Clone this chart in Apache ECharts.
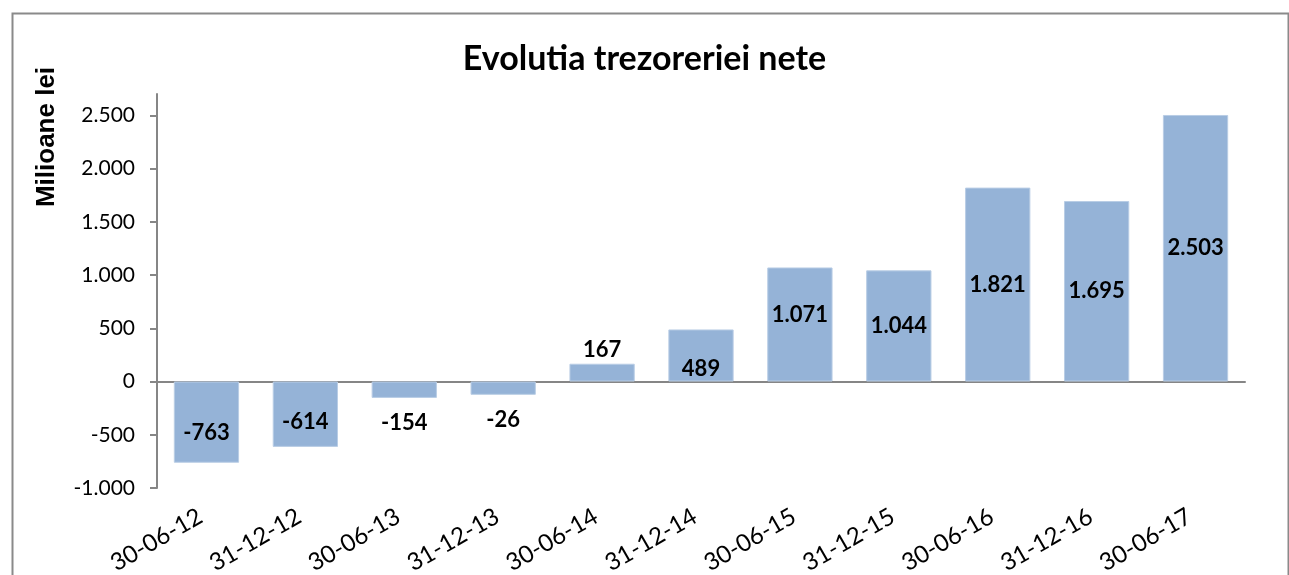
<!DOCTYPE html>
<html>
<head>
<meta charset="utf-8">
<script src="https://cdn.jsdelivr.net/npm/echarts@6/dist/echarts.min.js"></script>
<style>
html,body{margin:0;padding:0;background:#fff;}
#chart{width:1289px;height:575px;}
</style>
</head>
<body>
<div id="chart"></div>
<script>
// ---- data ----
const categories = ['30-06-12','31-12-12','30-06-13','31-12-13','30-06-14','31-12-14','30-06-15','31-12-15','30-06-16','31-12-16','30-06-17'];
// bar heights as drawn in the picture
const barValues = [-763, -614, -154, -125, 167, 489, 1071, 1044, 1821, 1695, 2503];
// data labels as printed in the picture
const labelTexts = ['-763','-614','-154','-26','167','489','1.071','1.044','1.821','1.695','2.503'];
const yTickValues = [-1000, -500, 0, 500, 1000, 1500, 2000, 2500];
const titleText = 'Evolutia trezoreriei nete';
const yAxisTitle = 'Milioane lei';

// ---- styling (label placement per bar) ----
const labelStyle = [
  {position:'inside', offset:[0,11]},
  {position:'inside', offset:[0,8]},
  {position:'bottom', distance:14},
  {position:'bottom', distance:14},
  {position:'top', distance:3},
  {position:'inside', offset:[0,13]},
  {position:'inside', offset:[0,-10]},
  {position:'inside', offset:[0,0]},
  {position:'inside', offset:[0,0]},
  {position:'inside', offset:[0,0]},
  {position:'inside', offset:[0,0]}
];

function fmt(v){
  const s = Math.abs(v).toString().replace(/\B(?=(\d{3})+(?!\d))/g, '.');
  return (v < 0 ? '-' : '') + s;
}

const FONT = 'Lato';
const chart = echarts.init(document.getElementById('chart'), null, {renderer:'canvas'});
chart.setOption({
  animation:false,
  backgroundColor:'#ffffff',
  title:{
    text:titleText, left:'center', top:37,
    textStyle:{fontFamily:FONT, fontSize:34, fontWeight:'bold', color:'#000'}
  },
  graphic:[{
    type:'rect', left:10, top:11, silent:true,
    shape:{width:1276, height:600},
    style:{fill:'none', stroke:'#8a8a8a', lineWidth:2}
  },{
    type:'text', x:47, y:137, rotation:Math.PI/2, silent:true,
    style:{text:yAxisTitle, fontFamily:'Liberation Sans', fontSize:26, fontWeight:'bold', fill:'#000',
      align:'center', verticalAlign:'middle'}
  }],
  grid:{left:157, right:44, top:94, bottom:87, containLabel:false, outerBoundsMode:'none'},
  xAxis:[{
    type:'category', data:categories, position:'bottom',
    axisLine:{show:false, onZero:false},
    axisTick:{show:false},
    axisLabel:{rotate:30, margin:23, padding:[0,7,0,0], fontFamily:FONT, fontSize:24, color:'#000', interval:0}
  },{
    type:'category', data:categories, position:'bottom',
    axisLine:{show:true, onZero:true, lineStyle:{color:'#868686', width:2}},
    axisTick:{show:false}, axisLabel:{show:false}
  }],
  yAxis:{
    type:'value', min:-1000, max:2700, interval:500,
    axisLine:{show:true, lineStyle:{color:'#868686', width:2}},
    axisTick:{show:true, inside:false, length:7, lineStyle:{color:'#868686', width:2}, customValues:yTickValues},
    axisLabel:{fontFamily:FONT, fontSize:21, color:'#000', margin:22, customValues:yTickValues, formatter:fmt},
    splitLine:{show:false}
  },
  series:[{
    type:'bar', xAxisIndex:0,
    barCategoryGap:'34%',
    itemStyle:{color:'#95b3d7', borderColor:'#b9cde5', borderWidth:1},
    data:barValues.map((v,i)=>({
      value:v,
      label:Object.assign({show:true, fontFamily:FONT, fontSize:22, fontWeight:'bold', color:'#000',
        formatter:()=>labelTexts[i]}, labelStyle[i])
    }))
  }]
});
</script>
</body>
</html>
